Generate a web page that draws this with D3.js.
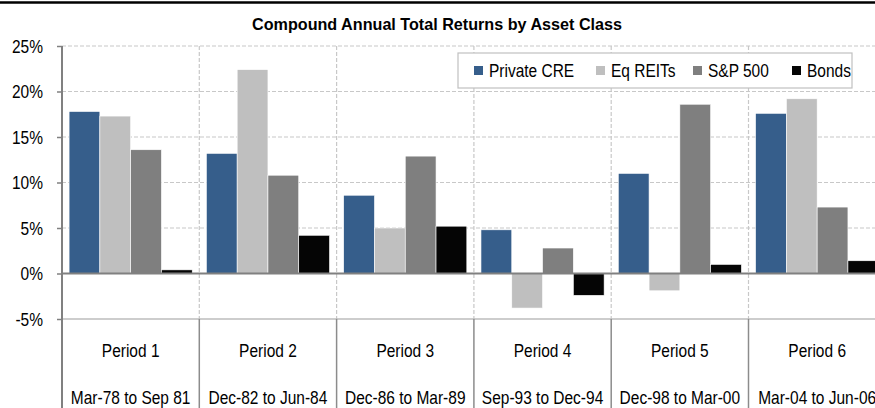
<!DOCTYPE html>
<html>
<head>
<meta charset="utf-8">
<script src="https://cdn.jsdelivr.net/npm/d3@7"></script>
<style>
  body { margin: 0; background: #fff; }
  svg { display: block; font-family: "Liberation Sans", Arial, sans-serif; }
</style>
</head>
<body>
<svg id="chart" width="875" height="408"></svg>
<script>
// data
var periods = ["Period 1", "Period 2", "Period 3", "Period 4", "Period 5", "Period 6"];
var dateRanges = ["Mar-78 to Sep 81", "Dec-82 to Jun-84", "Dec-86 to Mar-89", "Sep-93 to Dec-94", "Dec-98 to Mar-00", "Mar-04 to Jun-06"];
var series = ["Private CRE", "Eq REITs", "S&P 500", "Bonds"];
var colors = ["#365E8B", "#BFBFBF", "#7F7F7F", "#050505"];
var privateCRE = [17.8, 13.2, 8.6, 4.8, 11.0, 17.6];
var eqREITs = [17.3, 22.4, 5.0, -3.8, -1.9, 19.2];
var sp500 = [13.6, 10.8, 12.9, 2.8, 18.6, 7.3];
var bonds = [0.4, 4.2, 5.2, -2.4, 1.0, 1.4];
var yTicks = [-5, 0, 5, 10, 15, 20, 25];
var title = "Compound Annual Total Returns by Asset Class";

var values = [privateCRE, eqREITs, sp500, bonds];

var svg = d3.select("#chart");
var plotLeft = 62, plotTop = 46, plotBottom = 319, step = 137.3;
var stretch = "scale(1,1.15)";

var x0 = d3.scaleBand().domain(periods).range([plotLeft, plotLeft + step * periods.length]).paddingInner(0).paddingOuter(0);
var x1 = d3.scaleBand().domain(series).range([0, x0.bandwidth()]).paddingInner(0).paddingOuter(0.23);
var y = d3.scaleLinear().domain([-5, 25]).range([plotBottom, plotTop]);

// text drawn a little taller than wide, like the original
function label(g, x, yy, txt, size, anchor) {
	var t = g.append("g").attr("transform", "translate(" + x + "," + yy + ") " + stretch)
		.append("text")
		.attr("text-anchor", anchor || "middle")
		.style("font-size", size + "px")
		.style("fill", "#000")
		.text(txt);
	return t;
}

// thick rule at top of page
svg.append("line")
	.attr("x1", 0).attr("x2", 875).attr("y1", 2.5).attr("y2", 2.5)
	.style("stroke", "#000").style("stroke-width", 2.5);

// title
label(svg, 437, 30, title, 14.5)
	.style("font-weight", "bold")
	.attr("textLength", 370).attr("lengthAdjust", "spacingAndGlyphs");

// horizontal gridlines
svg.append("g").selectAll("line")
	.data(yTicks.filter(function(d) { return d != 0 && d != -5; }))
	.enter().append("line")
	.attr("x1", plotLeft).attr("x2", 875)
	.attr("y1", function(d) { return y(d); }).attr("y2", function(d) { return y(d); })
	.style("stroke", "#C8C8C8").style("stroke-width", 1.2).style("stroke-dasharray", "4,2");

// vertical dashed gridlines in the plot
svg.append("g").selectAll("line")
	.data(periods.slice(1))
	.enter().append("line")
	.attr("x1", function(d) { return x0(d); }).attr("x2", function(d) { return x0(d); })
	.attr("y1", plotTop).attr("y2", plotBottom)
	.style("stroke", "#C8C8C8").style("stroke-width", 1.2).style("stroke-dasharray", "4,2");

// bottom of plot (-5%) solid
svg.append("line")
	.attr("x1", plotLeft).attr("x2", 875).attr("y1", y(-5)).attr("y2", y(-5))
	.style("stroke", "#BDBDBD").style("stroke-width", 1.5);

// table separators below
svg.append("g").selectAll("line")
	.data(periods.slice(1))
	.enter().append("line")
	.attr("x1", function(d) { return x0(d); }).attr("x2", function(d) { return x0(d); })
	.attr("y1", plotBottom).attr("y2", 408)
	.style("stroke", "#8C8C8C").style("stroke-width", 1.5);

// bars
var groups = svg.append("g").selectAll("g")
	.data(periods)
	.enter().append("g")
	.attr("transform", function(d) { return "translate(" + x0(d) + ",0)"; });

groups.selectAll("rect")
	.data(function(d, i) { return series.map(function(s, j) { return {s: s, v: values[j][i], c: colors[j]}; }); })
	.enter().append("rect")
	.attr("x", function(d) { return x1(d.s); })
	.attr("width", x1.bandwidth())
	.attr("y", function(d) { return y(Math.max(0, d.v)); })
	.attr("height", function(d) { return Math.abs(y(d.v) - y(0)); })
	.style("fill", function(d) { return d.c; })
	.style("stroke", "#fff").style("stroke-width", 0.6);

// zero line
svg.append("line")
	.attr("x1", plotLeft).attr("x2", 875).attr("y1", y(0)).attr("y2", y(0))
	.style("stroke", "#808080").style("stroke-width", 2);

// y axis
var yAxis = d3.axisLeft(y).tickValues(yTicks).tickSize(5).tickFormat(function() { return ""; });
var ya = svg.append("g").attr("transform", "translate(" + plotLeft + ",0)").call(yAxis);
ya.select(".domain").remove();
ya.selectAll(".tick line").style("stroke", "#808080").style("stroke-width", 1.5);
ya.selectAll(".tick").each(function(d) {
	label(d3.select(this), -19, 6, d + "%", 15.5, "end");
});
svg.append("line")
	.attr("x1", plotLeft).attr("x2", plotLeft).attr("y1", plotTop).attr("y2", 408)
	.style("stroke", "#808080").style("stroke-width", 2);

// category labels
var cats = svg.append("g");
periods.forEach(function(p, i) {
	var cx = x0(p) + x0.bandwidth() / 2;
	label(cats, cx, 357, p, 15.5);
	label(cats, cx, 404, dateRanges[i], 15.5);
});

// legend
var legend = svg.append("g").attr("transform", "translate(458,53)");
legend.append("rect")
	.attr("width", 394).attr("height", 35)
	.style("fill", "#fff").style("stroke", "#C0C0C0").style("stroke-width", 1.2);
var legendX = [16, 138, 235, 334];
var items = legend.selectAll("g.item")
	.data(series)
	.enter().append("g")
	.attr("class", "item")
	.attr("transform", function(d, i) { return "translate(" + legendX[i] + ",0)"; });
items.append("rect")
	.attr("x", 0).attr("y", 13).attr("width", 9).attr("height", 9)
	.style("fill", function(d, i) { return colors[i]; });
items.each(function(d) {
	label(d3.select(this), 15, 24, d, 15.5, "start");
});
</script>
</body>
</html>
